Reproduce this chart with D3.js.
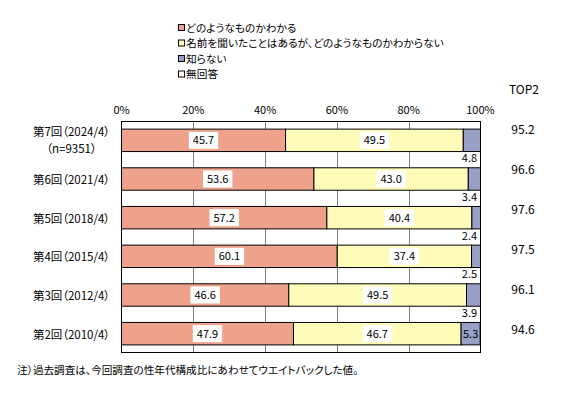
<!doctype html>
<html lang="ja">
<head>
<meta charset="utf-8" />
<script src="https://d3js.org/d3.v7.min.js"></script>
<style>
  body { margin: 0; background: #fff; }
  svg text {
    font-family: "Noto Sans CJK JP", "Noto Sans", sans-serif;
    fill: #000;
  }
  svg .palt { font-feature-settings: "palt"; }
</style>
</head>
<body>
<div id="chart"></div>
<script>
  // data
  var categories = ["第7回（2024/4）", "第6回（2021/4）", "第5回（2018/4）", "第4回（2015/4）", "第3回（2012/4）", "第2回（2010/4）"];
  var subLabels = ["（n=9351）", "", "", "", "", ""];
  var seriesNames = ["どのようなものかわかる", "名前を聞いたことはあるが、どのようなものかわからない", "知らない", "無回答"];
  var know = [45.7, 53.6, 57.2, 60.1, 46.6, 47.9];
  var heard = [49.5, 43.0, 40.4, 37.4, 49.5, 46.7];
  var dontKnow = [4.8, 3.4, 2.4, 2.5, 3.9, 5.3];
  var noAnswer = [0, 0, 0, 0, 0, 0];
  var top2 = [95.2, 96.6, 97.6, 97.5, 96.1, 94.6];
  var ticks = [0, 20, 40, 60, 80, 100];
  var colors = ["#eea28b", "#fffbb8", "#98a0c8", "#ffffff"];

  var width = 578, height = 394;
  var svg = d3.select("#chart").append("svg")
      .attr("width", width)
      .attr("height", height);

  var x = d3.scaleLinear().domain([0, 100]).range([121.5, 480.5]);
  var y = d3.scaleBand().domain(categories).range([121, 353]).paddingInner(0.42).paddingOuter(0.21);
  // TOP2 column is spaced a little differently from the bars
  var yTop = d3.scalePoint().domain(categories).range([129.5, 330]);

  var rows = categories.map(function(c, i) {
    return { cat: c, vals: [know[i], heard[i], dontKnow[i], noAnswer[i]] };
  });
  var stack = d3.stack().keys([0, 1, 2, 3]).value(function(d, k) { return d.vals[k]; });
  var layers = stack(rows);

  // legend
  var legend = svg.append("g");
  seriesNames.forEach(function(n, i) {
    var ly = 28 + i * 15.5;
    legend.append("rect").attr("x", 178.5).attr("y", ly - 3.5).attr("width", 6).attr("height", 6)
      .attr("fill", colors[i]).attr("stroke", "#000").attr("stroke-width", 1);
    legend.append("text").attr("class", "palt").attr("x", 186).attr("y", ly).attr("dy", "0.35em")
      .style("font-size", "10.7px").text(n);
  });

  // gridlines
  svg.append("g").selectAll("line").data(ticks.slice(1, -1)).enter().append("line")
    .attr("x1", function(d) { return Math.round(x(d)) + 0.5; })
    .attr("x2", function(d) { return Math.round(x(d)) + 0.5; })
    .attr("y1", 121).attr("y2", 353)
    .attr("stroke", "#808080").attr("stroke-width", 1);

  // top tick labels
  svg.append("g").selectAll("text").data(ticks).enter().append("text")
    .attr("x", function(d) { return x(d); })
    .attr("y", 110).attr("dy", "0.35em")
    .attr("text-anchor", "middle")
    .style("font-size", "11px")
    .text(function(d) { return d + "%"; });

  // bars
  svg.append("g").selectAll("g").data(layers).enter().append("g")
    .attr("fill", function(d, i) { return colors[i]; })
    .selectAll("rect").data(function(d) { return d.filter(function(s) { return s[1] > s[0]; }); })
    .enter().append("rect")
      .attr("x", function(d) { return x(d[0]); })
      .attr("width", function(d) { return x(d[1]) - x(d[0]); })
      .attr("y", function(d) { return y(d.data.cat); })
      .attr("height", y.bandwidth())
      .attr("stroke", "#000").attr("stroke-width", 1);

  // plot frame
  svg.append("rect").attr("x", x(0)).attr("y", 121.5).attr("width", x(100) - x(0)).attr("height", 231)
    .attr("fill", "none").attr("stroke", "#000").attr("stroke-width", 1);

  // value labels
  function boxLabel(cx, cy, txt) {
    var g = svg.append("g");
    var t = g.append("text").attr("x", cx).attr("y", cy).attr("dy", "0.35em")
      .attr("text-anchor", "middle").style("font-size", "11px").text(txt);
    var w = t.node().getComputedTextLength();
    g.insert("rect", "text").attr("x", cx - w / 2 - 4).attr("y", cy - 8.5)
      .attr("width", w + 8).attr("height", 17).attr("fill", "#fff");
  }
  layers.slice(0, 2).forEach(function(layer) {
    layer.forEach(function(s) {
      boxLabel((x(s[0]) + x(s[1])) / 2, y(s.data.cat) + y.bandwidth() / 2, s.data.vals[layer.key].toFixed(1));
    });
  });
  layers[2].forEach(function(s, i) {
    var v = s.data.vals[2];
    var lab = svg.append("text").attr("dy", "0.35em").attr("text-anchor", "middle")
      .style("font-size", "11px").text(v.toFixed(1));
    if (v >= 5) {
      lab.attr("x", (x(s[0]) + x(s[1])) / 2).attr("y", y(s.data.cat) + y.bandwidth() / 2);
    } else {
      lab.attr("x", x(100) - 11).attr("y", y(s.data.cat) + y.bandwidth() + 7);
    }
  });

  // category labels
  categories.forEach(function(c, i) {
    var cy = y(c) + y.bandwidth() / 2;
    if (subLabels[i]) {
      svg.append("text").attr("class", "palt").attr("x", 110).attr("y", cy - 8).attr("dy", "0.35em")
        .attr("text-anchor", "end").attr("textLength", 77).attr("lengthAdjust", "spacing")
        .style("font-size", "11.5px").text(c);
      svg.append("text").attr("class", "palt").attr("x", 110 - 77 / 2).attr("y", cy + 9).attr("dy", "0.35em")
        .attr("text-anchor", "middle").style("font-size", "11.5px").text(subLabels[i]);
    } else {
      svg.append("text").attr("class", "palt").attr("x", 110).attr("y", cy + 1).attr("dy", "0.35em")
        .attr("text-anchor", "end").attr("textLength", 77).attr("lengthAdjust", "spacing")
        .style("font-size", "11.5px").text(c);
    }
  });

  // TOP2
  svg.append("text").attr("x", 524).attr("y", 90).attr("dy", "0.35em")
    .attr("text-anchor", "middle").style("font-size", "12px").text("TOP2");
  svg.append("g").selectAll("text").data(top2).enter().append("text")
    .attr("x", 523)
    .attr("y", function(d, i) { return yTop(categories[i]); })
    .attr("dy", "0.35em").attr("text-anchor", "middle").style("font-size", "12px")
    .text(function(d) { return d.toFixed(1); });

  // note
  svg.append("text").attr("class", "palt").attr("x", 17).attr("y", 370).attr("dy", "0.35em")
    .style("font-size", "10.6px")
    .text("注）過去調査は、今回調査の性年代構成比にあわせてウエイトバックした値。");
</script>
</body>
</html>
